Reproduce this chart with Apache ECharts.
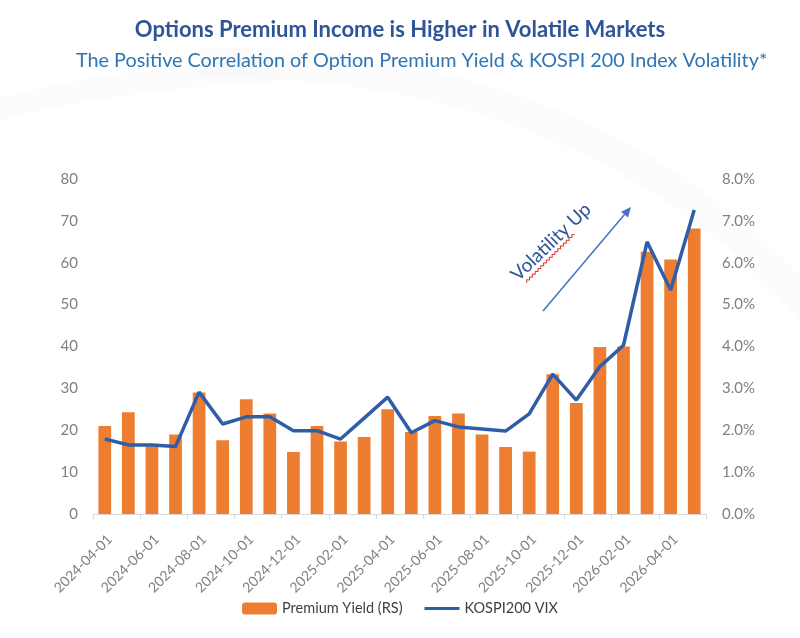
<!DOCTYPE html>
<html>
<head>
<meta charset="utf-8">
<script src="https://cdn.jsdelivr.net/npm/echarts@6/dist/echarts.min.js"></script>
<style>
  html, body { margin: 0; padding: 0; background: #fff; }
  #main { width: 800px; height: 638px; }
</style>
</head>
<body>
<div id="main"></div>
<script>
var months = ['2024-04-01', '2024-05-01', '2024-06-01', '2024-07-01', '2024-08-01', '2024-09-01',
	'2024-10-01', '2024-11-01', '2024-12-01', '2025-01-01', '2025-02-01', '2025-03-01',
	'2025-04-01', '2025-05-01', '2025-06-01', '2025-07-01', '2025-08-01', '2025-09-01',
	'2025-10-01', '2025-11-01', '2025-12-01', '2026-01-01', '2026-02-01', '2026-03-01',
	'2026-04-01', '2026-05-01'];
var premiumYield = [21, 24.3, 16.2, 19, 29, 17.6, 27.4, 24, 14.8, 21, 17.3, 18.4,
	25, 19.6, 23.4, 24, 19, 16, 14.9, 33.4, 26.5, 39.9, 40, 62.6, 60.8, 68.2];
var kospiVix = [1.79, 1.65, 1.65, 1.61, 2.91, 2.15, 2.32, 2.32, 1.99, 1.99, 1.79, 2.29,
	2.79, 1.94, 2.23, 2.08, 2.03, 1.98, 2.39, 3.34, 2.72, 3.52, 4.03, 6.5, 5.35, 7.26];
var leftTicks = { min: 0, max: 80, step: 10 };
var rightTicks = { min: 0, max: 8, step: 1 };

var chart = echarts.init(document.getElementById('main'));
var font = 'Lato';

// red spell-check squiggle under "Volatility" (decoration only)
function squiggle(x1, y1, x2, y2) {
	var dx = x2 - x1, dy = y2 - y1;
	var len = Math.sqrt(dx * dx + dy * dy);
	var ux = dx / len, uy = dy / len;
	var px = -uy, py = ux;
	var pts = [];
	var n = Math.round(len / 2);
	for (var i = 0; i <= n; i++) {
		var t = i * len / n;
		var a = (i % 2 === 0) ? 1.2 : -1.2;
		pts.push([ x1 + ux * t + px * a, y1 + uy * t + py * a ]);
	}
	return pts;
}

var option = {
	backgroundColor: '#fff',
	title: [ {
		text: 'Options Premium Income is Higher in Volatile Markets',
		left: 'center',
		top: 14,
		textStyle: { fontFamily: font, fontWeight: 'bold', fontSize: 22, color: '#2F5597' }
	}, {
		text: 'The Positive Correlation of Option Premium Yield & KOSPI 200 Index Volatility*',
		left: 71,
		top: 46,
		textStyle: { fontFamily: font, fontWeight: 'normal', fontSize: 19.8, color: '#2E75B6' }
	} ],
	legend: {
		bottom: 17,
		left: 'center',
		itemWidth: 35,
		itemHeight: 12,
		itemGap: 22,
		textStyle: { fontFamily: font, fontSize: 14.5, color: '#404040' },
		data: [ 'Premium Yield (RS)', {
			name: 'KOSPI200 VIX',
			icon: 'path://M0,0H40V3.2H0Z'
		} ]
	},
	grid: {
		left: 93,
		right: 94,
		top: 179,
		bottom: 124
	},
	xAxis: {
		type: 'category',
		data: months,
		axisLine: { lineStyle: { color: '#d9d9d9', width: 1 } },
		axisTick: { show: true, interval: 1, length: 5, lineStyle: { color: '#d9d9d9' } },
		axisLabel: {
			interval: 1,
			rotate: 45,
			verticalAlign: 'top',
			fontFamily: font,
			fontSize: 14,
			color: '#808080',
			margin: 18
		}
	},
	yAxis: [ {
		type: 'value',
		min: leftTicks.min,
		max: leftTicks.max,
		interval: leftTicks.step,
		axisLine: { show: false },
		axisTick: { show: false },
		splitLine: { show: false },
		axisLabel: { fontFamily: font, fontSize: 15, color: '#808080', margin: 15 }
	}, {
		type: 'value',
		min: rightTicks.min,
		max: rightTicks.max,
		interval: rightTicks.step,
		axisLine: { show: false },
		axisTick: { show: false },
		splitLine: { show: false },
		axisLabel: {
			fontFamily: font,
			fontSize: 15,
			color: '#808080',
			margin: 16,
			formatter: function(v) { return v.toFixed(1) + '%'; }
		}
	} ],
	series: [ {
		name: 'Premium Yield (RS)',
		type: 'bar',
		data: premiumYield,
		barWidth: '54%',
		itemStyle: { color: '#ED7D31' }
	}, {
		name: 'KOSPI200 VIX',
		type: 'line',
		yAxisIndex: 1,
		data: kospiVix,
		symbol: 'none',
		lineStyle: { color: '#2F5DA8', width: 3.5 },
		itemStyle: { color: '#2F5DA8' }
	} ],
	graphic: [ {
		type: 'bezierCurve',
		silent: true,
		z: -10,
		shape: { x1: 200, y1: 62, cpx1: 600, cpy1: 60, x2: 820, y2: 320 },
		style: {
			stroke: 'rgba(120,120,140,0.025)',
			lineWidth: 30,
			fill: null,
			shadowBlur: 20,
			shadowColor: 'rgba(120,120,140,0.04)'
		}
	}, {
		type: 'bezierCurve',
		silent: true,
		z: -10,
		shape: { x1: -10, y1: 112, cpx1: 100, cpy1: 80, x2: 280, y2: 70 },
		style: {
			stroke: 'rgba(120,120,140,0.02)',
			lineWidth: 22,
			fill: null,
			shadowBlur: 16,
			shadowColor: 'rgba(120,120,140,0.03)'
		}
	}, {
		type: 'text',
		x: 551,
		y: 242,
		rotation: 44 * Math.PI / 180,
		style: {
			text: 'Volatility Up',
			fontFamily: font,
			fontSize: 19,
			fill: '#2F5597',
			align: 'center',
			verticalAlign: 'middle'
		}
	}, {
		type: 'polyline',
		shape: { points: squiggle(526, 282, 574, 234) },
		style: { stroke: '#E03030', lineWidth: 1, fill: null }
	}, {
		type: 'line',
		shape: { x1: 543, y1: 311, x2: 624.5, y2: 214.6 },
		style: { stroke: '#4472C4', lineWidth: 1.5 }
	}, {
		type: 'polygon',
		shape: { points: [ [ 631, 207 ], [ 628, 217.5 ], [ 621.1, 211.7 ] ] },
		style: { fill: '#4472C4' }
	} ]
};

chart.setOption(option);

window.onresize = function() {
	chart.resize();
};
</script>
</body>
</html>
